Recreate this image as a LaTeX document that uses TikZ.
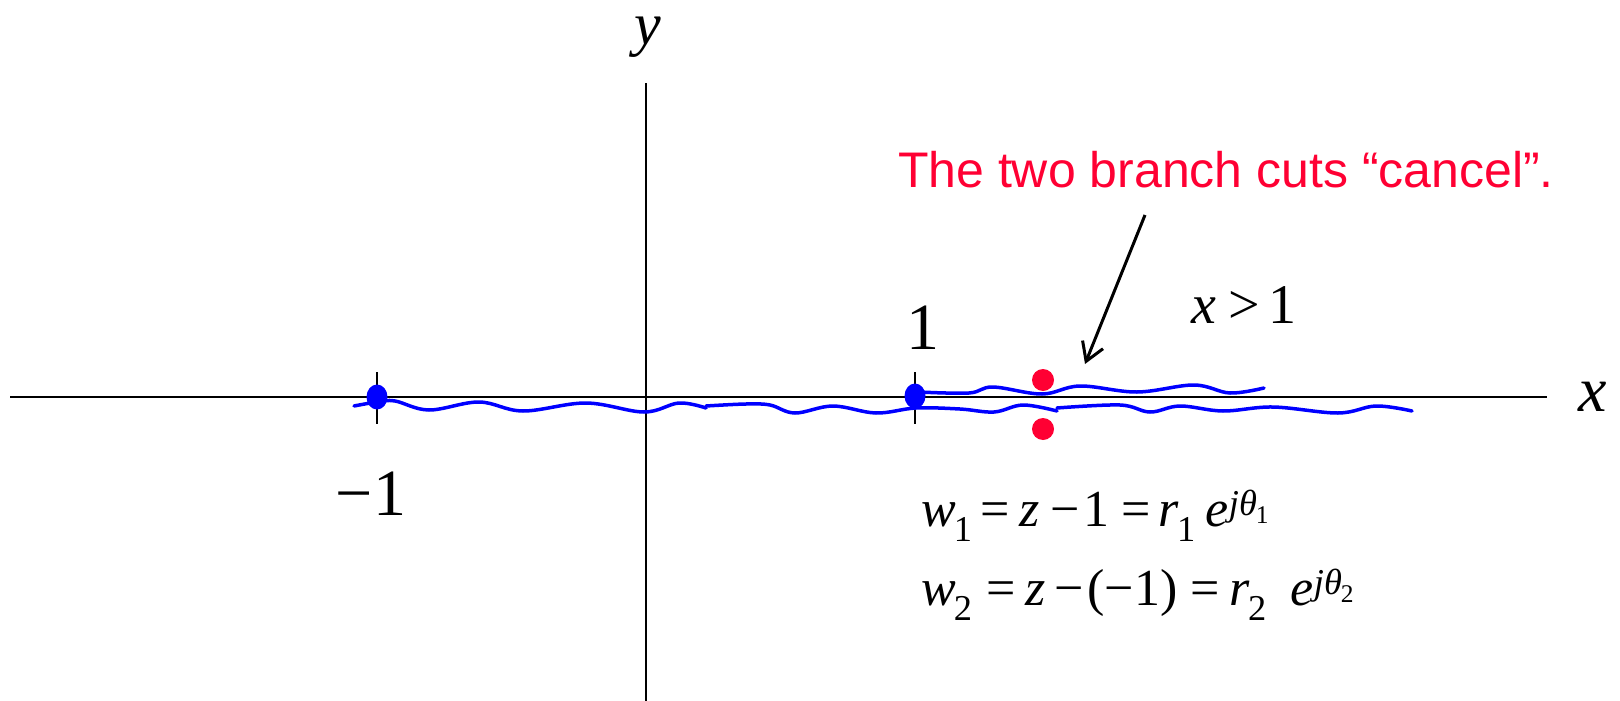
\documentclass[tikz,border=0pt]{standalone}
\usepackage{fontspec}
\setmainfont{Liberation Serif}
\newfontfamily\arialf{Liberation Sans}
\usetikzlibrary{arrows.meta,shapes.geometric}
\definecolor{cutblue}{RGB}{0,0,255}
\definecolor{notered}{RGB}{255,0,51}
\tikzset{
  axisline/.style={line width=2.5pt, black},
  tickline/.style={line width=2.5pt, black},
  cutline/.style={line width=3.5pt, cutblue, line cap=round},
  bdot/.style={ellipse, fill=cutblue, minimum width=21pt, minimum height=25pt, inner sep=0pt},
  rdot/.style={circle, fill=notered, minimum size=22pt, inner sep=0pt},
  mlabel/.style={inner sep=0pt, font=\fontsize{60}{70}\selectfont},
  eqlabel/.style={inner sep=0pt, anchor=base west, font=\fontsize{52}{60}\selectfont},
  notelabel/.style={inner sep=0pt, text=notered, font=\arialf\fontsize{50}{60}\selectfont},
  pointer/.style={line width=3pt, black, -{Straight Barb[length=18pt,width=22pt]}}
}
\begin{document}
\begin{tikzpicture}[x=1pt,y=-1pt]
\useasboundingbox (0,0) rectangle (1620,701);
% axes
\coordinate (xl) at (10,397);
\coordinate (xr) at (1547,397);
\coordinate (yt) at (646,83);
\coordinate (yb) at (646,701);
\draw[axisline] (xl) -- (xr);
\draw[axisline] (yb) -- (yt);
\node[mlabel, anchor=base, font=\itshape\fontsize{60}{70}\selectfont] (ylab) at (648,45) {y};
\node[mlabel, anchor=base, font=\itshape\fontsize{64}{70}\selectfont] (xlab) at (1593,411) {x};
% ticks
\coordinate (tm1a) at (377,372); \coordinate (tm1b) at (377,424);
\coordinate (tp1a) at (915,372); \coordinate (tp1b) at (915,424);
\draw[tickline] (tm1a) -- (tm1b);
\draw[tickline] (tp1a) -- (tp1b);
\node[mlabel, font=\fontsize{66}{70}\selectfont] (lm1) at (372,494) {\kern-2pt−1};
\node[mlabel, font=\fontsize{66}{70}\selectfont] (lp1) at (923,328) {1};
% branch cuts (lower)
\draw[cutline] plot[smooth, tension=0.6] coordinates {
 (354,406) (377,402) (395,401) (429,410) (479,402) (523,411) (586,403) (644,412) (679,403) (706,408)};
\draw[cutline] plot[smooth, tension=0.6] coordinates {
 (706,406) (746,404) (770,405) (795,413) (833,406) (876,413) (916,408) (960,409) (994,412) (1023,405) (1057,411)};
\draw[cutline] plot[smooth, tension=0.6] coordinates {
 (1057,408) (1120,405) (1150,412) (1180,406) (1223,411) (1273,407) (1338,413) (1376,406) (1412,411)};
% branch cut (upper)
\draw[cutline] plot[smooth, tension=0.6] coordinates {
 (919,392) (969,393) (993,387) (1042,394) (1080,386) (1137,392) (1194,385) (1230,393) (1264,388)};
% branch points
\node[bdot] (bpm) at (377,397) {};
\node[bdot] (bpp) at (915,396) {};
% red points
\node[rdot] (rup) at (1043,380) {};
\node[rdot] (rdn) at (1043,429) {};
% note
\node[notelabel] (note) at (1226,170) {The two branch cuts “cancel”.};
\coordinate (astart) at (1145,215);
\coordinate (aend) at (1085,364);
\draw[pointer] (astart) -- (aend);
\node[mlabel, anchor=base west, font=\fontsize{56}{60}\selectfont] (xgt) at (1191,323) {\textit{x}\hspace{12pt}>\hspace{9pt}1};
% equations
\node[eqlabel] (eq1) at (921,526) {\textit{w}\kern-2pt\textsubscript{1}\hspace{8pt}=\hspace{10pt}\textit{z}\hspace{10pt}−\hspace{4pt}1\hspace{12pt}=\hspace{8pt}\textit{r}\kern-2pt\textsubscript{1}\hspace{10pt}\textit{e}\textsuperscript{\textit{jθ}\kern-1pt\textsubscript{1}}};
\node[eqlabel] (eq2) at (921,605) {\textit{w}\kern-2pt\textsubscript{2}\hspace{14pt}=\hspace{10pt}\textit{z}\hspace{8pt}−\hspace{4pt}(−1)\hspace{13pt}=\hspace{10pt}\textit{r}\kern-2pt\textsubscript{2}\hspace{24pt}\textit{e}\textsuperscript{\textit{jθ}\kern-1pt\textsubscript{2}}};
\end{tikzpicture}
\end{document}
